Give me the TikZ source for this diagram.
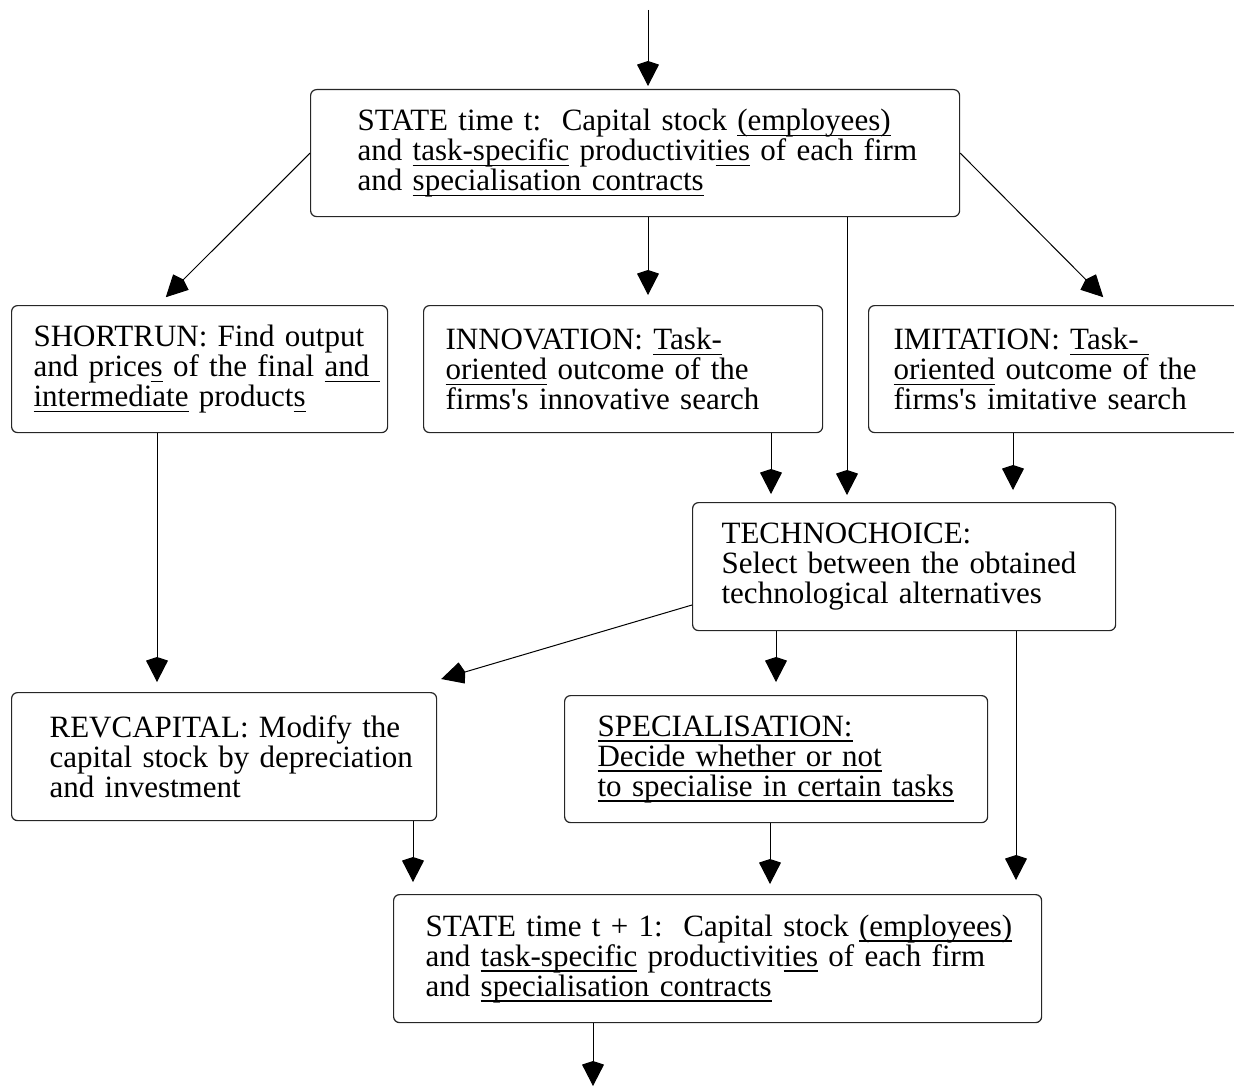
\documentclass[tikz,border=0pt]{standalone}
\usepackage{fontspec}
\setmainfont{Liberation Serif}
\usetikzlibrary{arrows.meta}
\frenchspacing
\newcommand{\bxfont}{\fontsize{15.5}{15}\selectfont\frenchspacing}
\newcommand{\uln}[1]{\leavevmode\setbox0\hbox{#1}\rlap{\vrule height -2.2pt depth 2.8pt width \wd0}\box0\relax}
\tikzset{
  bx/.style={draw=black!85, rounded corners=3pt, line width=0.6pt, anchor=north west,
    inner sep=0pt, align=left, font=\bxfont},
  arr/.style={draw=black, line width=0.5pt, -{Kite[length=12.5pt,width=11pt,inset=1.8pt]}}
}
\begin{document}
\begin{tikzpicture}[x=0.5pt,y=-0.5pt]
\useasboundingbox (0,0) rectangle (1234,1086);
\clip (0,0) rectangle (1234,1086);

\node[bx, text width=324.5pt, minimum height=63.5pt] (st) at (310,89)
  {\leftskip=23.5pt\relax STATE time t:~ Capital stock \uln{(employees)}\\
   and \uln{task-specific} productivit\uln{ies} of each firm\\
   and \uln{specialisation contracts}\par};

\node[bx, text width=188pt, minimum height=63.5pt] (sr) at (11,305)
  {\leftskip=11pt\relax SHORTRUN: Find output\\
   and price\uln{s} of the final \uln{and\ }\\
   \uln{intermediate} product\uln{s}\par};

\node[bx, text width=199.5pt, minimum height=63.5pt] (inno) at (423,305)
  {\leftskip=11pt\relax INNOVATION: \uln{Task-}\\
   \uln{oriented} outcome of the\\
   firms\textquotesingle s innovative search\par};

\node[bx, text width=196pt, minimum height=63.5pt] (imit) at (868,305)
  {\leftskip=12.5pt\relax IMITATION: \uln{Task-\ }\\
   \uln{oriented} outcome of the\\
   firms\textquotesingle s imitative search\par};

\node[bx, text width=211.5pt, minimum height=64pt] (tc) at (692,502)
  {\leftskip=14.5pt\relax TECHNOCHOICE:\\
   Select between the obtained\\
   technological alternatives\par};

\node[bx, text width=212.5pt, minimum height=64pt] (rc) at (11,692)
  {\leftskip=19pt\relax REVCAPITAL: Modify the\\
   capital stock by depreciation\\
   and investment\par};

\node[bx, text width=211.5pt, minimum height=63.5pt] (spec) at (564,695)
  {\leftskip=16.5pt\relax \uln{SPECIALISATION:}\\
   \uln{Decide whether or not}\\
   \uln{to specialise in certain tasks}\par};

\node[bx, text width=324pt, minimum height=64pt] (stn) at (393,894)
  {\leftskip=16pt\relax STATE time t + 1:~ Capital stock \uln{(employees)}\\
   and \uln{task-specific} productivit\uln{ies} of each firm\\
   and \uln{specialisation contracts}\par};

\coordinate (top) at (648,10);
\coordinate (bot) at (593,1086);

\draw[arr, shorten >=1.5pt] (top) -- (st.north -| top);
\draw[arr, shorten >=5.5pt] (st.west) -- (sr.north -| 158,0);
\draw[arr, shorten >=5pt] (st.south -| 648,0) -- (inno.north -| 648,0);
\draw[arr, shorten >=3.5pt] (st.south -| 847,0) -- (tc.north -| 847,0);
\draw[arr, shorten >=5.5pt] (st.east) -- (imit.north -| 1111,0);
\draw[arr, shorten >=5pt] (sr.south -| 157,0) -- (rc.north -| 157,0);
\draw[arr, shorten >=4pt] (inno.south -| 771,0) -- (tc.north -| 771,0);
\draw[arr, shorten >=6pt] (imit.south -| 1013,0) -- (tc.north -| 1013,0);
\draw[arr] (tc.west |- 0,605) -- ([shift={(2pt,6.5pt)}]rc.north east);
\draw[arr, shorten >=6.5pt] (tc.south -| 776,0) -- (spec.north -| 776,0);
\draw[arr, shorten >=7pt] (tc.south -| 1016,0) -- (stn.north -| 1016,0);
\draw[arr, shorten >=6pt] (rc.south -| 413,0) -- (stn.north -| 413,0);
\draw[arr, shorten >=5pt] (spec.south -| 770,0) -- (stn.north -| 770,0);
\draw[arr] (stn.south -| bot) -- (bot);
\end{tikzpicture}
\end{document}
